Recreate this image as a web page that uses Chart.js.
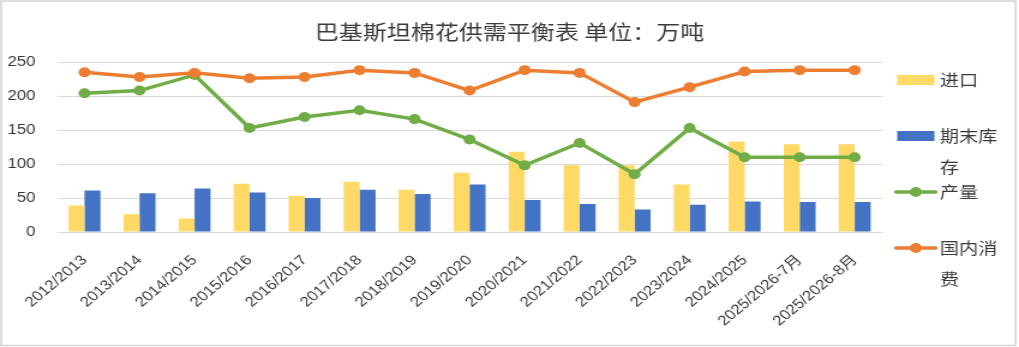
<!DOCTYPE html>
<html>
<head>
<meta charset="utf-8">
<title>巴基斯坦棉花供需平衡表</title>
<script src="https://cdn.jsdelivr.net/npm/chart.js@4.4.1/dist/chart.umd.min.js"></script>
<style>
    html, body { margin: 0; padding: 0; background: #ffffff; }
    #balance { display: block; }
</style>
</head>
<body>
<!-- drawn at 849 wide, shown stretched to 1019 -->
<canvas id="balance" width="849" height="347" style="width:1019px;height:347px"></canvas>
<script>
// === DATA (万吨) ===
const categories = [
    '2012/2013', '2013/2014', '2014/2015', '2015/2016', '2016/2017',
    '2017/2018', '2018/2019', '2019/2020', '2020/2021', '2021/2022',
    '2022/2023', '2023/2024', '2024/2025', '2025/2026-7月', '2025/2026-8月'
];
const imports      = [39, 26, 20, 71, 53, 74, 62, 87, 118, 98, 98, 70, 133, 129, 129];
const endingStocks = [61, 57, 64, 58, 50, 62, 56, 70, 47, 41, 33, 40, 45, 44, 44];
const production   = [204, 208, 231, 153, 169, 179, 166, 136, 98, 131, 85, 153, 110, 110, 110];
const consumption  = [235, 228, 234, 226, 228, 238, 234, 208, 238, 234, 191, 213, 236, 238, 238];

const yMax = 250;
const yStep = 50;
const titleText = '巴基斯坦棉花供需平衡表 单位：万吨';

const TEXT_COLOR = '#3a3a3a';
const GRID_COLOR = '#d9d9d9';

Chart.defaults.font.family = '"Liberation Sans", "Noto Sans CJK SC", sans-serif';

/**
 * Title, frame and the narrow right-hand legend (labels wrap per character)
 */
const decorPlugin = {
    id: 'decor',
    afterDraw: function (chart) {
        const ctx = chart.ctx;
        ctx.save();

        // outer frame
        ctx.strokeStyle = '#d4d4d4';
        ctx.lineWidth = 1.5;
        ctx.strokeRect(1, 1, chart.width - 4, chart.height - 2.5);

        // title
        ctx.fillStyle = TEXT_COLOR;
        ctx.font = '20px "Noto Sans CJK SC"';
        ctx.textAlign = 'center';
        ctx.textBaseline = 'middle';
        ctx.fillText(titleText, chart.width / 2, 32);

        // legend
        const boxLeft = 747.5, boxWidth = 31, textLeft = 783, maxText = 52;
        ctx.font = '16px "Noto Sans CJK SC"';
        ctx.textAlign = 'left';
        chart.data.datasets.forEach((ds, i) => {
            const cy = 80 + i * 56;
            if (ds.type === 'bar') {
                ctx.fillStyle = ds.backgroundColor;
                ctx.fillRect(boxLeft, cy - 5, boxWidth, 10);
            } else {
                ctx.strokeStyle = ds.borderColor;
                ctx.lineWidth = ds.borderWidth;
                ctx.lineCap = 'round';
                ctx.beginPath();
                ctx.moveTo(boxLeft - 1, cy);
                ctx.lineTo(boxLeft + boxWidth + 1, cy);
                ctx.stroke();
                ctx.fillStyle = ds.borderColor;
                ctx.beginPath();
                ctx.arc(boxLeft + boxWidth / 2, cy, ds.pointRadius, 0, Math.PI * 2);
                ctx.fill();
            }

            // wrap label character by character
            const lines = [];
            let line = '';
            for (const ch of ds.label) {
                if (line && ctx.measureText(line + ch).width > maxText) {
                    lines.push(line);
                    line = ch;
                } else {
                    line += ch;
                }
            }
            lines.push(line);
            ctx.fillStyle = TEXT_COLOR;
            lines.forEach((l, j) => ctx.fillText(l, textLeft, cy + j * 31));
        });

        ctx.restore();
    }
};

const canvas = document.getElementById('balance');
new Chart(canvas.getContext('2d'), {
    data: {
        labels: categories,
        datasets: [
            {
                type: 'bar',
                label: '进口',
                data: imports,
                backgroundColor: '#FFD966',
                order: 2
            },
            {
                type: 'bar',
                label: '期末库存',
                data: endingStocks,
                backgroundColor: '#4472C4',
                order: 2
            },
            {
                type: 'line',
                label: '产量',
                data: production,
                borderColor: '#70AD47',
                backgroundColor: '#70AD47',
                borderWidth: 3.5,
                pointRadius: 5,
                pointBorderWidth: 0,
                tension: 0,
                order: 1
            },
            {
                type: 'line',
                label: '国内消费',
                data: consumption,
                borderColor: '#ED7D31',
                backgroundColor: '#ED7D31',
                borderWidth: 3.5,
                pointRadius: 5,
                pointBorderWidth: 0,
                tension: 0,
                order: 0
            }
        ]
    },
    options: {
        responsive: false,
        animation: false,
        events: [],
        layout: {
            padding: { top: 62, right: 114, bottom: 0, left: 0 }
        },
        datasets: {
            bar: { categoryPercentage: 0.58, barPercentage: 1 }
        },
        plugins: {
            legend: { display: false },
            title: { display: false },
            tooltip: { enabled: false }
        },
        scales: {
            x: {
                grid: { display: false },
                border: { display: false },
                ticks: {
                    color: TEXT_COLOR,
                    font: { size: 14 },
                    minRotation: 45,
                    maxRotation: 45,
                    autoSkip: false,
                    padding: 12
                },
                afterFit: function (scale) { scale.height = 115; }
            },
            y: {
                min: 0,
                max: yMax,
                ticks: {
                    stepSize: yStep,
                    color: TEXT_COLOR,
                    font: { size: 14 },
                    padding: 18
                },
                grid: { color: GRID_COLOR, drawTicks: false },
                border: { display: false },
                afterFit: function (scale) { scale.width = 47.5; }
            }
        }
    },
    plugins: [decorPlugin]
});
</script>
</body>
</html>
